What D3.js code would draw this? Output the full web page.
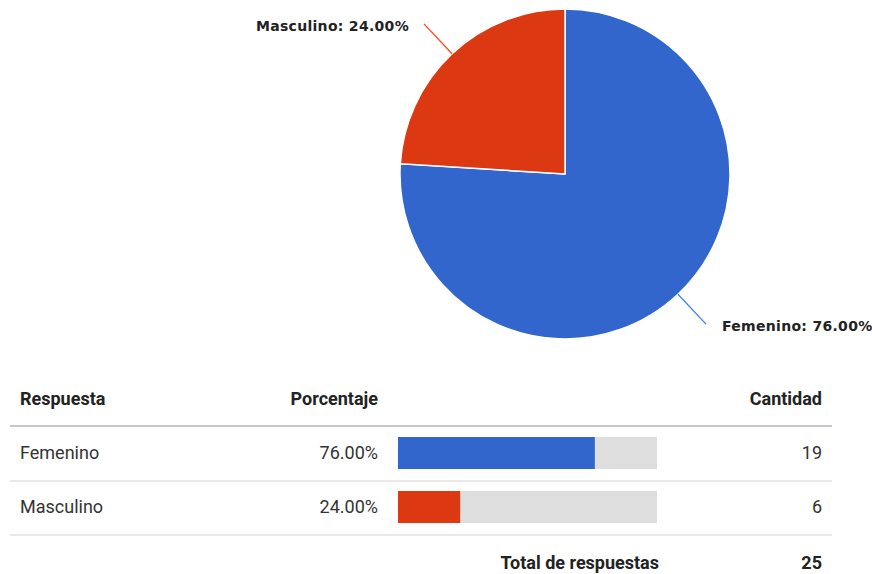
<!DOCTYPE html>
<html>
<head>
<meta charset="utf-8">
<script src="https://cdn.jsdelivr.net/npm/d3@7"></script>
<style>
  body { margin: 0; background: #fff; }
  svg { display: block; }
  .pieLabel { font-family: "DejaVu Sans", Verdana, sans-serif; font-weight: bold; font-size: 14px; letter-spacing: 0.3px; fill: #222; }
  .tbl { font-family: Roboto, sans-serif; font-size: 18px; fill: #333; }
  .tblHead { font-family: Roboto, sans-serif; font-size: 18px; font-weight: bold; fill: #222; }
</style>
</head>
<body>
<script>
// chart data
var categories = ["Femenino", "Masculino"];
var counts = [19, 6];
var colors = ["#3366cc", "#dc3912"];
var headers = ["Respuesta", "Porcentaje", "Cantidad"];
var totalLabel = "Total de respuestas";

var svgWidth = 872;
var svgHeight = 574;

var svg = d3.select("body")
  .append("svg")
  .attr("width", svgWidth)
  .attr("height", svgHeight);

var total = d3.sum(counts);
var rows = categories.map(function (c, i) {
  return { name: c, count: counts[i], pct: counts[i] / total, color: colors[i] };
});

// ---- pie ----
var radius = 165;
var pieGroup = svg.append("g")
  .attr("transform", "translate(565, 174)");

var pie = d3.pie().sort(null).value(d => d.count);
var arc = d3.arc().innerRadius(0).outerRadius(radius);
var arcs = pie(rows);

pieGroup.selectAll("path")
  .data(arcs)
  .enter()
  .append("path")
  .attr("d", arc)
  .attr("fill", d => d.data.color)
  .attr("stroke", "#fff")
  .attr("stroke-width", 1.5);

// leader lines and labels
function pointAt(a, r) {
  var mid = (a.startAngle + a.endAngle) / 2;
  return [Math.sin(mid) * r, -Math.cos(mid) * r];
}

pieGroup.selectAll("line.leader")
  .data(arcs)
  .enter()
  .append("line")
  .attr("class", "leader")
  .attr("x1", d => pointAt(d, radius)[0])
  .attr("y1", d => pointAt(d, radius)[1])
  .attr("x2", d => pointAt(d, 206)[0])
  .attr("y2", d => pointAt(d, 206)[1])
  .attr("stroke", d => d3.color(d.data.color).brighter(0.6))
  .attr("stroke-width", 1.3);

pieGroup.selectAll("text.pieLabel")
  .data(arcs)
  .enter()
  .append("text")
  .attr("class", "pieLabel")
  .attr("x", function (d) {
    var p = pointAt(d, 206);
    return p[0] < 0 ? p[0] - 15 : p[0] + 16;
  })
  .attr("y", d => pointAt(d, 206)[1] + 2)
  .attr("dy", "0.35em")
  .attr("text-anchor", d => pointAt(d, 206)[0] < 0 ? "end" : "start")
  .text(d => d.data.name + ": " + d3.format(".2%")(d.data.pct));

// ---- table ----
var tableLeft = 10, tableRight = 832;
var colName = 20, colPct = 378, colCount = 822;
var headerY = 399, rowH = 55, firstRowY = 453;

var bar = d3.scaleLinear().domain([0, 1]).range([398, 657]);

var table = svg.append("g");

table.append("text").attr("class", "tblHead").attr("x", colName).attr("y", headerY).attr("dy", "0.35em").text(headers[0]);
table.append("text").attr("class", "tblHead").attr("x", colPct).attr("y", headerY).attr("dy", "0.35em").attr("text-anchor", "end").text(headers[1]);
table.append("text").attr("class", "tblHead").attr("x", colCount).attr("y", headerY).attr("dy", "0.35em").attr("text-anchor", "end").text(headers[2]);

table.append("line")
  .attr("x1", tableLeft).attr("x2", tableRight)
  .attr("y1", 426).attr("y2", 426)
  .attr("stroke", "#c8c8c8").attr("stroke-width", 2);

var rowG = table.selectAll("g.row")
  .data(rows)
  .enter()
  .append("g")
  .attr("class", "row")
  .attr("transform", (d, i) => "translate(0," + (firstRowY + i * (rowH - 1)) + ")");

rowG.append("text").attr("class", "tbl").attr("x", colName).attr("dy", "0.35em").text(d => d.name);
rowG.append("text").attr("class", "tbl").attr("x", colPct).attr("dy", "0.35em").attr("text-anchor", "end")
  .text(d => d3.format(".2%")(d.pct));

rowG.append("rect")
  .attr("x", bar(0)).attr("y", -16)
  .attr("width", bar(1) - bar(0)).attr("height", 32)
  .attr("fill", "#dedede");

rowG.append("rect")
  .attr("x", bar(0)).attr("y", -16)
  .attr("width", d => bar(d.pct) - bar(0)).attr("height", 32)
  .attr("fill", d => d.color);

rowG.append("text").attr("class", "tbl").attr("x", colCount).attr("dy", "0.35em").attr("text-anchor", "end")
  .text(d => d.count);

rowG.append("line")
  .attr("x1", tableLeft).attr("x2", tableRight)
  .attr("y1", 28).attr("y2", 28)
  .attr("stroke", "#e2e2e2").attr("stroke-width", 1.5);

// total row
var totalY = 563;
table.append("text").attr("class", "tblHead").attr("x", 659).attr("y", totalY).attr("dy", "0.35em").attr("text-anchor", "end").text(totalLabel);
table.append("text").attr("class", "tblHead").attr("x", colCount).attr("y", totalY).attr("dy", "0.35em").attr("text-anchor", "end").text(total);
</script>
</body>
</html>
